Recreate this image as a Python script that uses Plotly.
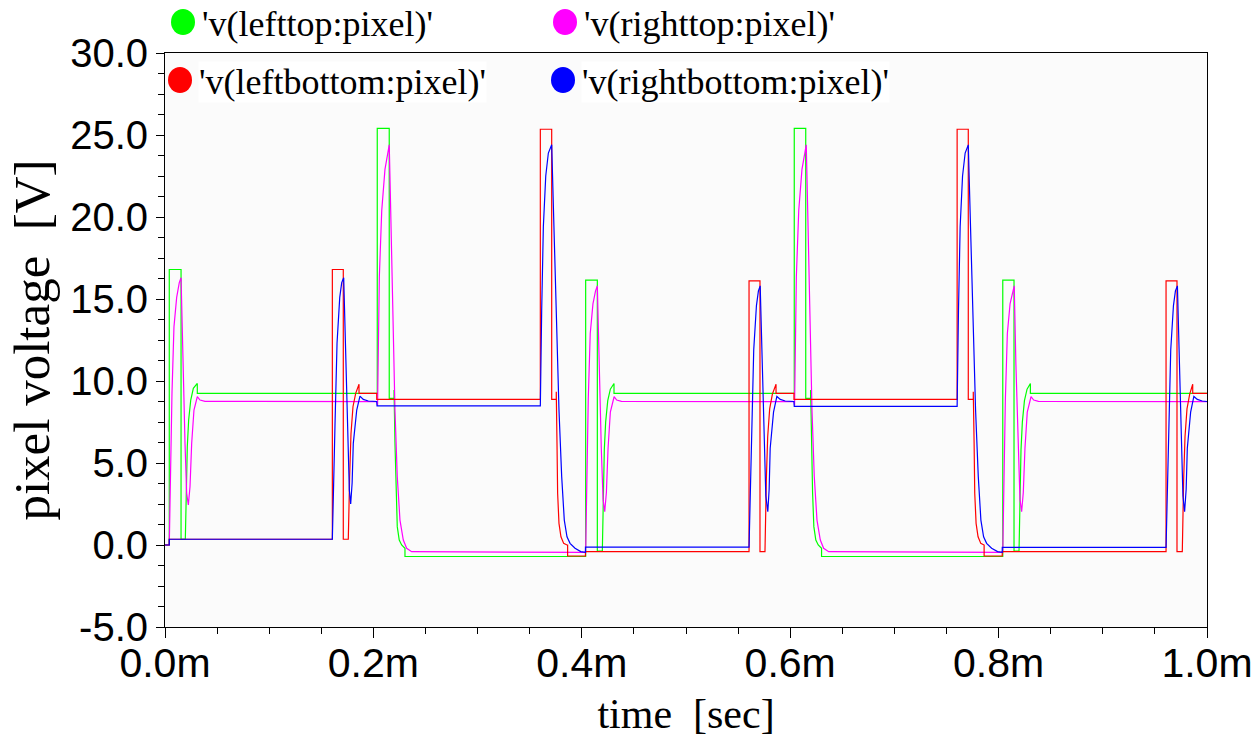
import plotly.graph_objects as go

# ---------------- data (time in ms, voltage in V) ----------------
series_names = ["'v(lefttop:pixel)'", "'v(righttop:pixel)'",
                "'v(leftbottom:pixel)'", "'v(rightbottom:pixel)'"]
series_colors = ["#00ff00", "#ff00ff", "#ff0000", "#0000ff"]

green_t = [0, 0.0041, 0.0041, 0.0154, 0.0154, 0.0195, 0.0214, 0.0227, 0.0247, 0.0272, 0.0310, 0.0310,
           0.2037, 0.2037, 0.2152, 0.2152, 0.2198, 0.2198, 0.2207, 0.2217, 0.2229, 0.2248, 0.2271, 0.2303, 0.2303,
           0.4037, 0.4037, 0.4149, 0.4149, 0.4197, 0.4216, 0.4229, 0.4249, 0.4274, 0.4309, 0.4309,
           0.6039, 0.6039, 0.6149, 0.6149, 0.6196, 0.6196, 0.6205, 0.6215, 0.6227, 0.6246, 0.6269, 0.6301, 0.6301,
           0.8040, 0.8040, 0.8148, 0.8148, 0.8196, 0.8215, 0.8228, 0.8248, 0.8273, 0.8305, 0.8305, 1.0]
green_v = [0, 0, 16.8, 16.8, 0.35, 0.35, 5.99, 7.62, 8.84, 9.55, 9.85, 9.25,
           9.25, 25.4, 25.4, 8.94, 8.94, 9.45, 6.2, 3.15, 1.12, 0.3, 0.0, -0.2, -0.7,
           -0.7, 16.15, 16.15, -0.37, -0.37, 5.8, 7.5, 8.8, 9.5, 9.85, 9.25,
           9.25, 25.4, 25.4, 8.94, 8.94, 9.45, 6.2, 3.15, 1.12, 0.3, 0.0, -0.2, -0.7,
           -0.7, 16.15, 16.15, -0.37, -0.37, 5.8, 7.5, 8.8, 9.5, 9.85, 9.25, 9.25]

magenta_t = [0, 0.0041, 0.0067, 0.0086, 0.0112, 0.0137, 0.0154, 0.0170, 0.0192, 0.0208, 0.0224, 0.0240, 0.0256,
             0.0278, 0.0310, 0.0336, 0.0384,
             0.2037, 0.2040, 0.2057, 0.2080, 0.2111, 0.2152, 0.2166, 0.2185, 0.2207, 0.2229, 0.2255, 0.2287,
             0.2319, 0.2367,
             0.4037, 0.4062, 0.4081, 0.4107, 0.4132, 0.4149, 0.4165, 0.4187, 0.4204, 0.4220, 0.4236, 0.4252,
             0.4274, 0.4310, 0.4335, 0.4380,
             0.6039, 0.6042, 0.6059, 0.6082, 0.6113, 0.6154, 0.6168, 0.6187, 0.6209, 0.6231, 0.6257, 0.6289,
             0.6321, 0.6369,
             0.8040, 0.8065, 0.8084, 0.8110, 0.8135, 0.8150, 0.8166, 0.8188, 0.8205, 0.8221, 0.8237, 0.8253,
             0.8275, 0.8311, 0.8337, 0.8382, 1.0]
magenta_v = [0, 0, 9.25, 13.3, 15.1, 16.0, 16.3, 11.3, 6.2, 3.15, 2.44, 3.55, 6.2,
             8.23, 9.04, 8.84, 8.76,
             8.74, 8.5, 16.36, 20.4, 22.9, 24.4, 20.4, 14.3, 8.23, 4.17, 1.52, 0.3,
             -0.2, -0.41,
             -0.45, 8.9, 12.9, 14.7, 15.5, 15.8, 11.0, 5.9, 2.8, 2.03, 3.2, 5.9,
             8.1, 9.04, 8.84, 8.76,
             8.74, 8.5, 16.36, 20.4, 22.9, 24.4, 20.4, 14.3, 8.23, 4.17, 1.52, 0.3,
             -0.2, -0.41,
             -0.45, 8.9, 12.9, 14.7, 15.5, 15.8, 11.0, 5.9, 2.8, 2.03, 3.2, 5.9,
             8.1, 9.04, 8.84, 8.76, 8.74]

red_t = [0, 0.0041, 0.0041, 0.1606, 0.1606, 0.1711, 0.1711, 0.1759, 0.1772, 0.1785, 0.1804, 0.1830, 0.1862, 0.1862,
         0.2032, 0.2032, 0.3602, 0.3602, 0.3711, 0.3711, 0.3755, 0.3755, 0.3762, 0.3768, 0.3781, 0.3800, 0.3826,
         0.3858, 0.3864, 0.3864, 0.4035, 0.4035,
         0.5605, 0.5605, 0.5710, 0.5710, 0.5758, 0.5771, 0.5784, 0.5803, 0.5829, 0.5864, 0.5864,
         0.6036, 0.6036, 0.7602, 0.7602, 0.7709, 0.7709, 0.7757, 0.7757, 0.7765, 0.7771, 0.7784, 0.7803, 0.7829,
         0.7861, 0.7861, 0.8035, 0.8035,
         0.9607, 0.9607, 0.9712, 0.9712, 0.9763, 0.9776, 0.9789, 0.9808, 0.9834, 0.9863, 0.9863, 1.0]
red_v = [0, 0, 0.35, 0.35, 16.8, 16.8, 0.35, 0.35, 4.17, 6.8, 8.43, 9.25, 9.8, 9.25,
         9.25, 8.88, 8.88, 25.35, 25.35, 8.88, 8.88, 9.35, 6.2, 3.15, 1.32, 0.5, 0.1,
         0.0, 0.0, -0.67, -0.67, -0.4,
         -0.4, 16.1, 16.1, -0.4, -0.4, 4.0, 6.6, 8.3, 9.2, 9.8, 9.25,
         9.25, 8.88, 8.88, 25.35, 25.35, 8.88, 8.88, 9.35, 6.2, 3.15, 1.32, 0.5, 0.1,
         0.0, -0.67, -0.67, -0.4,
         -0.4, 16.1, 16.1, -0.4, -0.4, 4.0, 6.6, 8.3, 9.2, 9.8, 9.25, 9.25]

blue_t = [0, 0.0041, 0.0041, 0.1606, 0.1631, 0.1651, 0.1677, 0.1696, 0.1715, 0.1734, 0.1753, 0.1769, 0.1782,
          0.1796, 0.1807, 0.1840, 0.1871, 0.1903, 0.1951, 0.2032, 0.2035,
          0.3602, 0.3615, 0.3631, 0.3654, 0.3679, 0.3711, 0.3727, 0.3743, 0.3759, 0.3781, 0.3807, 0.3832,
          0.3858, 0.3887, 0.3935, 0.3990, 0.4035, 0.4035,
          0.5605, 0.5630, 0.5650, 0.5676, 0.5695, 0.5712, 0.5731, 0.5750, 0.5766, 0.5785, 0.5798, 0.5808,
          0.5840, 0.5872, 0.5905, 0.5952, 0.6036, 0.6039,
          0.7602, 0.7615, 0.7631, 0.7654, 0.7679, 0.7709, 0.7725, 0.7741, 0.7757, 0.7779, 0.7805, 0.7830,
          0.7856, 0.7885, 0.7933, 0.7990, 0.8035, 0.8035,
          0.9607, 0.9632, 0.9652, 0.9678, 0.9697, 0.9716, 0.9734, 0.9753, 0.9769, 0.9785, 0.9800, 0.9811,
          0.9843, 0.9874, 0.9907, 0.9954, 1.0]
blue_v = [0, 0, 0.35, 0.35, 7.2, 12.3, 15.1, 16.0, 16.3, 11.3, 6.2, 3.35, 2.5,
          3.8, 6.2, 8.23, 9.08, 8.88, 8.78, 8.75, 8.48,
          8.48, 14.3, 19.4, 22.5, 23.9, 24.4, 20.4, 16.4, 12.3, 8.23, 4.17, 1.52,
          0.5, 0.1, -0.2, -0.4, -0.45, -0.13,
          -0.13, 6.9, 11.9, 14.6, 15.5, 15.8, 11.0, 5.9, 3.0, 2.03, 3.4, 5.9,
          8.1, 9.06, 8.88, 8.78, 8.75, 8.45,
          8.45, 14.3, 19.4, 22.5, 23.9, 24.4, 20.4, 16.4, 12.3, 8.23, 4.17, 1.52,
          0.5, 0.1, -0.2, -0.4, -0.45, -0.15,
          -0.15, 6.9, 11.9, 14.6, 15.5, 15.8, 11.0, 5.9, 3.0, 2.03, 3.4, 5.9,
          8.1, 9.06, 8.88, 8.78, 8.75]

x_tick_vals = [0.0, 0.2, 0.4, 0.6, 0.8, 1.0]
x_tick_text = ["0.0m", "0.2m", "0.4m", "0.6m", "0.8m", "1.0m"]
y_tick_vals = [-5, 0, 5, 10, 15, 20, 25, 30]
y_tick_text = ["-5.0", "0.0", "5.0", "10.0", "15.0", "20.0", "25.0", "30.0"]

# ---------------- figure ----------------
W, H = 1252, 739
ML, MT = 165, 53
PW, PH = 1042, 574
MR, MB = W - ML - PW, H - MT - PH

fig = go.Figure()
all_series = [(green_t, green_v), (magenta_t, magenta_v), (red_t, red_v), (blue_t, blue_v)]
for (t, v), name, col in zip(all_series, series_names, series_colors):
    fig.add_trace(go.Scatter(x=t, y=v, mode="lines", name=name,
                             line=dict(color=col, width=1.2), showlegend=False))

serif = "Liberation Serif, Times New Roman, serif"
sans = "Liberation Sans, Arial, sans-serif"

fig.update_layout(
    width=W, height=H, autosize=False,
    margin=dict(l=ML, r=MR, t=MT, b=MB, pad=0),
    paper_bgcolor="#ffffff", plot_bgcolor="#fbfbfb",
    showlegend=False,
    xaxis=dict(range=[0, 1.0], tickvals=x_tick_vals, ticktext=x_tick_text,
               ticks="outside", ticklen=10, tickcolor="#000", tickwidth=1,
               minor=dict(dtick=0.05, ticks="outside", ticklen=6, tickcolor="#000"),
               showgrid=False, zeroline=False, showline=True, linecolor="#000", linewidth=1,
               mirror=True, automargin=False, ticklabeloverflow="allow", ticklabelstandoff=-10,
               tickfont=dict(family=sans, size=41, color="#000"),
               title=dict(text="time \u00a0[sec]", font=dict(family=serif, size=42, color="#000"),
                          standoff=13)),
    yaxis=dict(range=[-5, 30], tickvals=y_tick_vals, ticktext=y_tick_text,
               ticks="outside", ticklen=8, tickcolor="#000", tickwidth=1,
               minor=dict(dtick=1.25, ticks="outside", ticklen=6, tickcolor="#000"),
               showgrid=False, zeroline=False, showline=True, linecolor="#000", linewidth=1,
               mirror=True, automargin=False,
               tickfont=dict(family=sans, size=40, color="#000"),
               title=dict(text="pixel voltage \u00a0[V]", font=dict(family=serif, size=51, color="#000"),
                          standoff=4)),
)

# manual legend (large round dots + labels); positions given in page pixels
def px2paper(px, py):
    return (px - ML) / PW, (MT + PH - py) / PH

legend_pos = [(183, 22), (565, 22), (180, 80), (563, 80)]
for (cx, cy), name, col in zip(legend_pos, series_names, series_colors):
    xp, yp = px2paper(cx, cy)
    fig.add_shape(type="circle", xref="paper", yref="paper", xsizemode="pixel", ysizemode="pixel",
                  xanchor=xp, yanchor=yp, x0=-12, x1=12, y0=-13, y1=13,
                  fillcolor=col, line=dict(width=0), layer="above")
    tx, ty = px2paper(cx + 18, cy + 2)
    fig.add_annotation(text=name, xref="paper", yref="paper", x=tx, y=ty,
                       xanchor="left", yanchor="middle", showarrow=False,
                       bgcolor="#ffffff", borderpad=0,
                       font=dict(family=serif, size=36, color="#000"))

# remove the page's default body margin so the figure sits at the window's corner
fig.write_html("out.html", config={"displayModeBar": False},
               post_script="document.body.style.margin='0px';")
